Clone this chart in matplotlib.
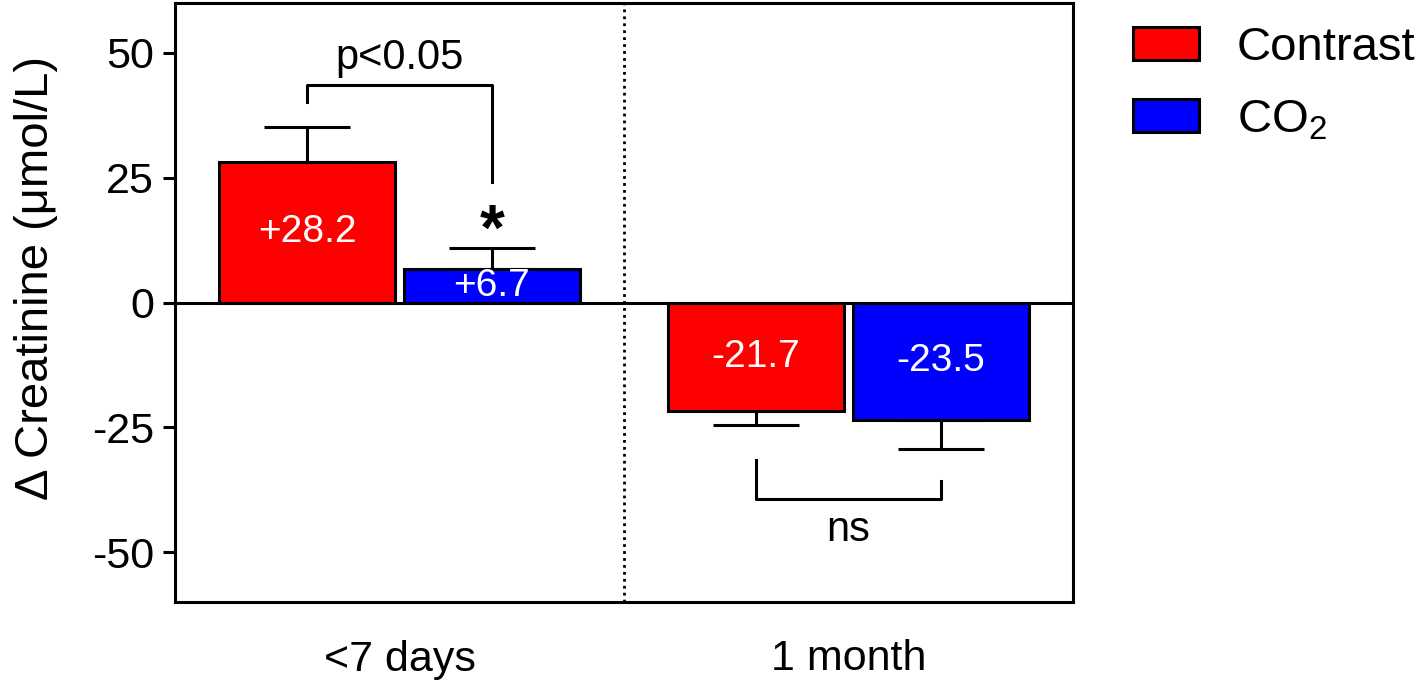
import matplotlib
matplotlib.use("Agg")
import matplotlib.pyplot as plt
import numpy as np

plt.rcParams['font.family'] = ['Liberation Sans', 'DejaVu Sans']
plt.rcParams['mathtext.fontset'] = 'custom'
plt.rcParams['mathtext.rm'] = 'Liberation Sans'
plt.rcParams['mathtext.it'] = 'Liberation Sans:italic'
plt.rcParams['mathtext.bf'] = 'Liberation Sans:bold'

# ---- data ----
groups = ['<7 days', '1 month']
series = ['Contrast', 'CO$_2$']
contrast_vals = [28.2, -21.7]
co2_vals = [6.7, -23.5]
contrast_err = [6.9, 2.8]
co2_err = [4.2, 5.8]
contrast_labels = ['+28.2', '-21.7']
co2_labels = ['+6.7', '-23.5']
colors = ['#ff0000', '#0000ff']
yticks = [-50, -25, 0, 25, 50]

fig = plt.figure(figsize=(14.18, 6.87), dpi=100)
ax = fig.add_axes([175/1418, 1-602/687, (1073-175)/1418, (602-3)/687])

x = np.arange(len(groups))
off = 0.206
w = 0.39
all_vals = [contrast_vals, co2_vals]
all_err = [contrast_err, co2_err]
all_labels = [contrast_labels, co2_labels]
for si, (vals, errs, labs, col) in enumerate(zip(all_vals, all_err, all_labels, colors)):
    xs = x + (-off if si == 0 else off)
    ax.bar(xs, vals, width=w, color=col, edgecolor='black', linewidth=2.2,
           label=series[si], zorder=2)
    for xi, v, e in zip(xs, vals, errs):
        yerr = [[0], [e]] if v >= 0 else [[e], [0]]
        ax.errorbar([xi], [v], yerr=yerr, fmt='none', ecolor='black',
                    elinewidth=2.2, capsize=31, capthick=2.2, zorder=1)
    for xi, v, t in zip(xs, vals, labs):
        ax.text(xi, v / 2, t, ha='center', va='center', color='white',
                fontsize=28, zorder=3)

ax.axhline(0, color='black', linewidth=2.2, zorder=4)
ax.axvline(0.5, color='black', linestyle=(0, (1, 1.5)), linewidth=2, zorder=1)

# significance brackets
xa = x[0] - off
xb = x[0] + off
ax.plot([xa, xa, xb, xb], [40.2, 43.6, 43.6, 24.1], color='black', lw=2.2)
ax.text(x[0], 49.0, 'p<0.05', ha='center', va='center', fontsize=30)
ax.text(xb, 14.0, '*', ha='center', va='center', fontsize=46, fontweight='bold')

xa = x[1] - off
xb = x[1] + off
ax.plot([xa, xa, xb, xb], [-31.5, -39.4, -39.4, -35.7], color='black', lw=2.2)
ax.text(x[1], -45.5, 'ns', ha='center', va='center', fontsize=30)

ax.set_xlim(-0.5, 1.5)
ax.set_ylim(-60, 60)
ax.set_yticks(yticks)
ax.set_yticklabels([str(t) for t in yticks])
ax.set_xticks(x)
ax.set_xticklabels(groups)
ax.tick_params(axis='y', labelsize=31, width=2.2, length=9, pad=6)
ax.tick_params(axis='x', labelsize=31, length=0, pad=27)
for s in ax.spines.values():
    s.set_linewidth(2.2)

fig.text(36/1418, 1-278/687, 'Δ Creatinine (μmol/L)', rotation=90,
         ha='center', va='center', fontsize=34)

leg = ax.legend(loc='upper left', bbox_to_anchor=(1133/1418, 1-26/687),
                bbox_transform=fig.transFigure, frameon=False, fontsize=34,
                handlelength=1.4, handleheight=0.7, handletextpad=0.8,
                labelspacing=0.6, borderaxespad=0, borderpad=0)
for h in leg.legend_handles:
    h.set_linewidth(2.2)

fig.savefig('out.png', dpi=100)
